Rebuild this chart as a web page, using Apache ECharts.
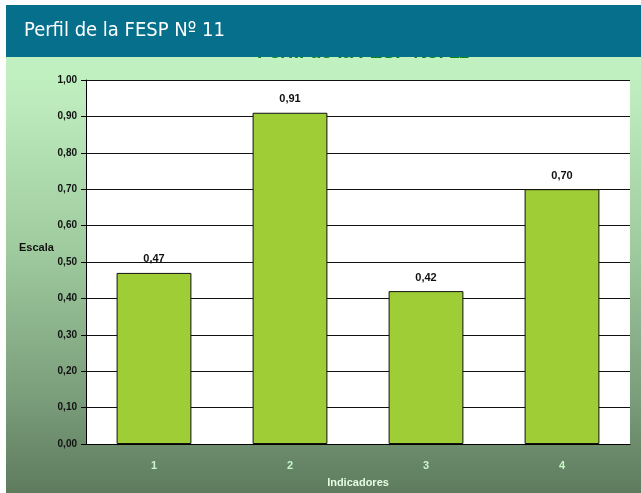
<!DOCTYPE html>
<html>
<head>
<meta charset="utf-8">
<script src="https://cdn.jsdelivr.net/npm/echarts@6/dist/echarts.min.js"></script>
<style>
  html, body { margin: 0; padding: 0; background: #fff; }
  #chart { width: 641px; height: 493px; }
</style>
</head>
<body>
<div id="chart"></div>
<script>
// data
const categories = ["1", "2", "3", "4"];
const values = [0.47, 0.91, 0.42, 0.70];
const yTicks = [0, 0.1, 0.2, 0.3, 0.4, 0.5, 0.6, 0.7, 0.8, 0.9, 1.0];

const comma = (v) => Number(v).toFixed(2).replace(".", ",");

const chart = echarts.init(document.getElementById("chart"), null, { renderer: "canvas" });

const option = {
  backgroundColor: "#ffffff",
  animation: false,
  title: {
    text: "Perfil de la FESP No. 11",
    left: 358,
    top: 38,
    textAlign: "center",
    textStyle: {
      color: "#0a8a0a",
      fontFamily: "Liberation Sans, Arial, sans-serif",
      fontWeight: "bold",
      fontSize: 19,
    },
  },
  graphic: [
    {
      // gradient panel behind everything
      type: "rect",
      z: -10,
      shape: { x: 6, y: 5, width: 635, height: 488 },
      style: {
        fill: new echarts.graphic.LinearGradient(0, 0, 0, 1, [
          { offset: 0, color: "#c6f8c6" },
          { offset: 0.2, color: "#bdebbd" },
          { offset: 0.5, color: "#9fcb9f" },
          { offset: 0.8, color: "#7b9e7b" },
          { offset: 1, color: "#5e7b5e" },
        ]),
      },
    },
    {
      // banner on top (covers the chart title)
      type: "rect",
      z: 100,
      shape: { x: 6, y: 5, width: 635, height: 52 },
      style: { fill: "#056f8c" },
    },
    {
      type: "text",
      z: 101,
      left: 24,
      top: 21,
      style: {
        text: "Perfil de la FESP N\u00ba 11",
        fill: "#ffffff",
        font: "20px 'DejaVu Sans Condensed', 'DejaVu Sans', sans-serif",
      },
    },
    {
      type: "text",
      left: 19,
      top: 242,
      style: {
        text: "Escala",
        fill: "#111",
        font: "bold 11px 'Liberation Sans', Arial, sans-serif",
      },
    },
  ],
  grid: {
    left: 86,
    right: 11,
    top: 80,
    bottom: 47,
    show: true,
    backgroundColor: "#ffffff",
    borderWidth: 0,
  },
  xAxis: {
    type: "category",
    data: categories,
    name: "Indicadores",
    nameLocation: "middle",
    nameGap: 33,
    nameTextStyle: {
      color: "#e6fce6",
      fontFamily: "Liberation Sans, Arial, sans-serif",
      fontWeight: "bold",
      fontSize: 11,
    },
    axisLine: { lineStyle: { color: "#000", width: 1 } },
    axisTick: { show: false },
    axisLabel: {
      color: "#c8f6c8",
      fontFamily: "Liberation Sans, Arial, sans-serif",
      fontWeight: "bold",
      fontSize: 11,
      margin: 16,
    },
  },
  yAxis: {
    type: "value",
    min: yTicks[0],
    max: yTicks[yTicks.length - 1],
    interval: 0.1,
    axisLine: { show: true, lineStyle: { color: "#000", width: 1 } },
    axisTick: { show: true, length: 5, lineStyle: { color: "#000" } },
    splitLine: { show: true, lineStyle: { color: "#111", width: 1 } },
    axisLabel: {
      formatter: (v) => comma(v),
      color: "#111",
      fontFamily: "Liberation Sans, Arial, sans-serif",
      fontWeight: "bold",
      fontSize: 10,
      margin: 9,
    },
  },
  series: [
    {
      type: "bar",
      data: values,
      barWidth: "55%",
      itemStyle: {
        color: "#9ecd35",
        borderColor: "#111",
        borderWidth: 1,
      },
      label: {
        show: true,
        position: "top",
        distance: 8,
        formatter: (p) => comma(p.value),
        color: "#111",
        fontFamily: "Liberation Sans, Arial, sans-serif",
        fontWeight: "bold",
        fontSize: 11,
      },
    },
  ],
};

chart.setOption(option);
</script>
</body>
</html>
